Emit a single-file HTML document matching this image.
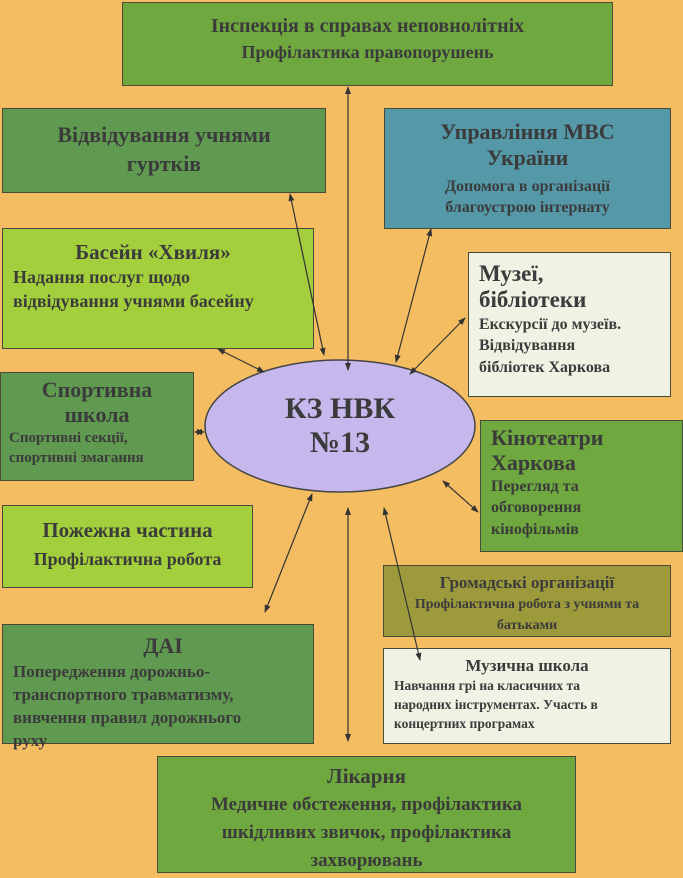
<!DOCTYPE html>
<html><head><meta charset="utf-8"><style>
body{margin:0;width:683px;height:878px;background:#f4bd62;position:relative;overflow:hidden;font-family:"Liberation Serif","Noto Serif CJK SC",serif;font-weight:bold;color:#3b3b3b}
.b{position:absolute;border:1.5px solid #4a4a3a;box-sizing:border-box;text-align:center;line-height:1.3}
.l{text-align:left;padding-left:10px}
svg{position:absolute;left:0;top:0}
</style></head><body>
<div class="b" style="left:122px;top:2px;width:491px;height:84px;background:#6ea83e;font-size:20px;padding-top:10px">Інспекція в справах неповнолітніх<br><span style="font-size:18px">Профілактика правопорушень</span></div>
<div class="b" style="left:2px;top:108px;width:324px;height:85px;background:#5f9a50;font-size:22px;padding-top:12px">Відвідування учнями<br>гуртків</div>
<div class="b" style="left:384px;top:108px;width:287px;height:121px;background:#5598a8;font-size:22px;padding-top:10px;line-height:1.2">Управління МВС<br>України<div style="font-size:16px;line-height:1.35;margin-top:4px">Допомога в організації<br>благоустрою інтернату</div></div>
<div class="b l" style="left:2px;top:228px;width:312px;height:121px;background:#a3cf3c;font-size:21px;padding-top:10px;text-align:left"><div style="text-align:center;padding-right:20px">Басейн «Хвиля»</div><div style="font-size:18px">Надання послуг щодо<br>відвідування учнями басейну</div></div>
<div class="b l" style="left:468px;top:252px;width:203px;height:145px;background:#eef3e4;font-size:23px;padding-top:8px;line-height:1.15">Музеї,<br>бібліотеки<div style="font-size:16px;line-height:1.35">Екскурсії до музеїв.<br>Відвідування<br>бібліотек Харкова</div></div>
<div class="b" style="left:0;top:372px;width:194px;height:109px;background:#5f9a50;font-size:22px;padding-top:4px;line-height:1.15">Спортивна<br>школа<div style="font-size:15px;text-align:left;padding-left:8px;line-height:1.35">Спортивні секції,<br>спортивні змагання</div></div>
<div class="b l" style="left:480px;top:420px;width:203px;height:132px;background:#6ea83e;font-size:22px;padding-top:4px;line-height:1.15">Кінотеатри<br>Харкова<div style="font-size:16px;line-height:1.35">Перегляд та<br>обговорення<br>кінофільмів</div></div>
<div class="b" style="left:2px;top:505px;width:251px;height:83px;background:#a3cf3c;font-size:21px;padding-top:10px;line-height:1.35">Пожежна частина<br><span style="font-size:18px">Профілактична робота</span></div>
<div class="b" style="left:383px;top:565px;width:288px;height:72px;background:#9d9a3c;font-size:17px;padding-top:6px;line-height:1.3">Громадські організації<div style="font-size:14px;line-height:1.5">Профілактична робота з учнями та<br>батьками</div></div>
<div class="b l" style="left:2px;top:624px;width:312px;height:120px;background:#5f9a50;font-size:17px;padding-top:6px;line-height:1.35"><div style="text-align:center;font-size:22px">ДАІ</div>Попередження дорожньо-<br>транспортного травматизму,<br>вивчення правил дорожнього<br>руху</div>
<div class="b" style="left:383px;top:648px;width:288px;height:96px;background:#eef3e4;font-size:17px;padding-top:6px;line-height:1.3">Музична школа<div style="font-size:13.5px;text-align:left;padding-left:10px;line-height:1.4">Навчання грі на класичних та<br>народних інструментах. Участь в<br>концертних програмах</div></div>
<div class="b" style="left:157px;top:756px;width:419px;height:117px;background:#6ea83e;font-size:21px;padding-top:6px;line-height:1.3">Лікарня<br><span style="font-size:19px">Медичне обстеження, профілактика<br>шкідливих звичок, профілактика<br>захворювань</span></div>
<svg width="683" height="878">
<defs><marker id="a" markerWidth="8" markerHeight="8" refX="7" refY="4" orient="auto-start-reverse" markerUnits="userSpaceOnUse"><path d="M0,1 L8,4 L0,7z" fill="#333"/></marker></defs>
<ellipse cx="340" cy="426" rx="135" ry="66" fill="#c6b8ec" stroke="#444" stroke-width="1.5"/>
<text x="340" y="418" text-anchor="middle" font-size="30" font-family="Liberation Serif" font-weight="bold" fill="#3b3b3b">КЗ НВК</text>
<text x="340" y="452" text-anchor="middle" font-size="30" font-family="Liberation Serif" font-weight="bold" fill="#3b3b3b">№13</text>
<g stroke="#333" stroke-width="1.2" marker-start="url(#a)" marker-end="url(#a)">
<line x1="348" y1="87" x2="348" y2="370"/>
<line x1="290" y1="194" x2="324" y2="355"/>
<line x1="218" y1="349" x2="264" y2="372"/>
<line x1="195" y1="432" x2="204" y2="432"/>
<line x1="431" y1="229" x2="396" y2="362"/>
<line x1="465" y1="318" x2="410" y2="374"/>
<line x1="443" y1="481" x2="478" y2="512"/>
<line x1="312" y1="494" x2="265" y2="612"/>
<line x1="348" y1="508" x2="348" y2="741"/>
<line x1="384" y1="508" x2="420" y2="660"/>
</g>
</svg>
</body></html>
